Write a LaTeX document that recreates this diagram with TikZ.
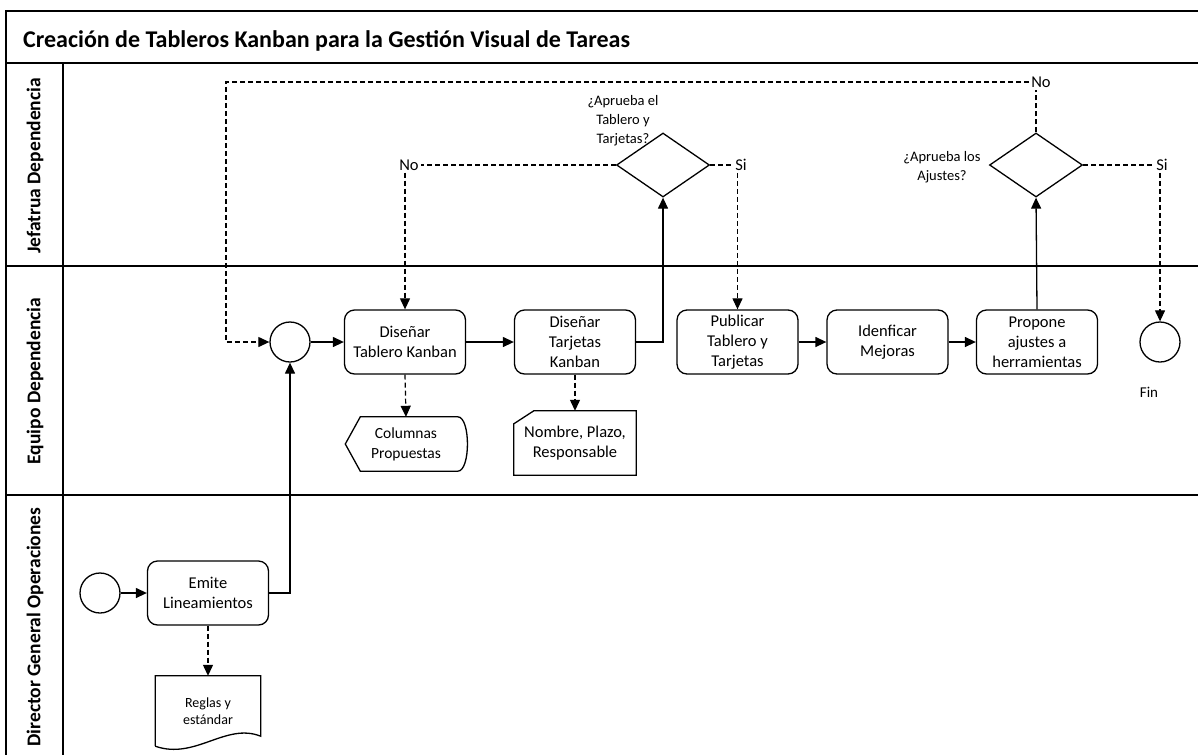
\documentclass[tikz,border=0pt]{standalone}
\usepackage{fontspec}
\setmainfont{Carlito}
\usetikzlibrary{arrows.meta,shapes.geometric,calc}

\tikzset{
  frameline/.style={line width=1.6pt},
  task/.style={draw, line width=1.3pt, rounded corners=10pt, minimum width=121pt,
    minimum height=64pt, align=center, inner sep=2pt,
    font=\fontsize{16.5}{20}\selectfont},
  event/.style={draw, circle, line width=1.3pt, minimum size=40pt, inner sep=0pt},
  gate/.style={draw, diamond, line width=1.3pt, minimum width=93pt,
    minimum height=64pt, inner sep=0pt},
  artifact/.style={align=center, inner sep=0pt},
  shapeline/.style={line width=1.3pt, line join=miter},
  flow/.style={line width=1.3pt, -{Triangle[length=11pt,width=10pt]}},
  assoc/.style={line width=1.2pt, dash pattern=on 5pt off 3pt, -{Triangle[length=11pt,width=10pt]}},
  assocplain/.style={line width=1.2pt, dash pattern=on 5pt off 3pt},
  branch/.style={inner sep=2pt, font=\fontsize{16.5}{18}\selectfont},
  question/.style={align=center, inner sep=0pt, font=\fontsize{14.5}{19}\selectfont},
  lanelabel/.style={rotate=90, font=\fontsize{19.5}{20}\selectfont\bfseries},
}

\begin{document}
\begin{tikzpicture}[x=1pt, y=-1pt]
  \fill[white] (0,0) rectangle (1198,755);
  \useasboundingbox (0,0) rectangle (1198,755);

  % pool frame and lanes
  \draw[frameline] (1198,11) -- (6,11) -- (6,755);
  \draw[frameline] (6,63) -- (1198,63);
  \draw[frameline] (6,266) -- (1198,266);
  \draw[frameline] (6,495) -- (1198,495);
  \draw[frameline] (63,63) -- (63,755);

  \node[anchor=base west, inner sep=0pt, font=\fontsize{24}{26}\selectfont\bfseries] (title) at (23,47)
    {Creación de Tableros Kanban para la Gestión Visual de Tareas};

  \node[lanelabel] (laneJ) at (35,166) {Jefatrua Dependencia};
  \node[lanelabel] (laneE) at (35,381) {Equipo Dependencia};
  \node[lanelabel] (laneD) at (35,627) {Director General Operaciones};

  % Director General Operaciones lane
  \node[event] (s0) at (100,593) {};
  \node[task] (emi) at (208,593) {Emite\\Lineamientos};
  \node[artifact, minimum width=105pt, minimum height=70pt,
        font=\fontsize{14}{17}\selectfont] (reg) at (208,711) {Reglas y\\estándar};
  \draw[shapeline] (reg.south west) -- (reg.north west) -- (reg.north east)
    -- ([yshift=10pt]reg.south east)
    .. controls ($(reg.south east)+(-35,-24)$) and ($(reg.south west)+(40,14)$) .. (reg.south west);

  % Equipo Dependencia lane
  \node[event] (c1) at (290,342) {};
  \node[task] (tab) at (405,342) {Diseñar\\Tablero Kanban};
  \node[task] (tar) at (575,342) {Diseñar\\Tarjetas\\Kanban};
  \node[task] (pub) at (737.5,342) {Publicar\\Tablero y\\Tarjetas};
  \node[task] (mej) at (887.5,342) {Idenficar\\Mejoras};
  \node[task] (pro) at (1037,342) {Propone\\ajustes a\\herramientas};
  \node[event] (fin) at (1160,342) {};
  \node[font=\fontsize{15}{17}\selectfont] (finlbl) at (1149,392) {Fin};

  \node[artifact, minimum width=121pt, minimum height=54pt,
        font=\fontsize{15.5}{20}\selectfont] (col) at (406,444) {Columnas\\Propuestas};
  \draw[shapeline] (col.west) -- ([xshift=15pt]col.north west)
    -- ([xshift=-9pt]col.north east)
    .. controls ([xshift=4pt]col.north east) and ([xshift=4pt]col.south east) .. ([xshift=-9pt]col.south east)
    -- ([xshift=15pt]col.south west) -- cycle;

  \node[artifact, minimum width=122pt, minimum height=64pt,
        font=\fontsize{16.5}{20}\selectfont] (nom) at (575,443) {Nombre, Plazo,\\Responsable};
  \draw[shapeline] ([yshift=-13pt]nom.north west) -- ([xshift=20pt]nom.north west)
    -- (nom.north east) -- (nom.south east) -- (nom.south west) -- cycle;

  % Jefatrua Dependencia lane
  \node[gate] (d1) at (663,165) {};
  \node[question] (q1) at (623,121) {¿Aprueba el\\Tablero y\\Tarjetas?};
  \node[branch] (no1) at (409,165) {No};
  \node[branch] (si1) at (741,165) {Si};

  \node[gate] (d2) at (1036,165) {};
  \node[question] (q2) at (942,167) {¿Aprueba los\\Ajustes?};
  \node[branch] (no2) at (1041,82) {No};
  \node[branch] (si2) at (1162,165) {Si};

  \coordinate (loop) at (226,82);

  % sequence flows
  \draw[flow] (s0) -- (emi);
  \draw[flow] (emi.east) -| (c1.south);
  \draw[flow] (c1) -- (tab);
  \draw[flow] (tab) -- (tar);
  \draw[flow] (tar.east) -| (d1.south);
  \draw[flow] (pub) -- (mej);
  \draw[flow] (mej) -- (pro);
  \draw[flow] (pro.north) -- (d2.south);

  % decision branches
  \draw[assocplain] (d1.west) -- (no1.east);
  \draw[assoc] (tab.north |- no1.south) -- (tab.north);
  \draw[assocplain] (d1.east) -- (si1.west);
  \draw[assoc] (pub.north |- si1.south) -- (pub.north);

  \draw[assocplain] (d2.north) -- (d2.north |- no2.south);
  \draw[assoc] (no2.west) -- (loop) |- (c1.west);
  \draw[assocplain] (d2.east) -- (si2.west);
  \draw[assoc] (fin.north |- si2.south) -- (fin.north);

  % data associations
  \draw[assoc] (emi.south) -- (reg.north);
  \draw[assoc] (tab.south) -- (col.north);
  \draw[assoc] (tar.south) -- (nom.north);
\end{tikzpicture}
\end{document}
